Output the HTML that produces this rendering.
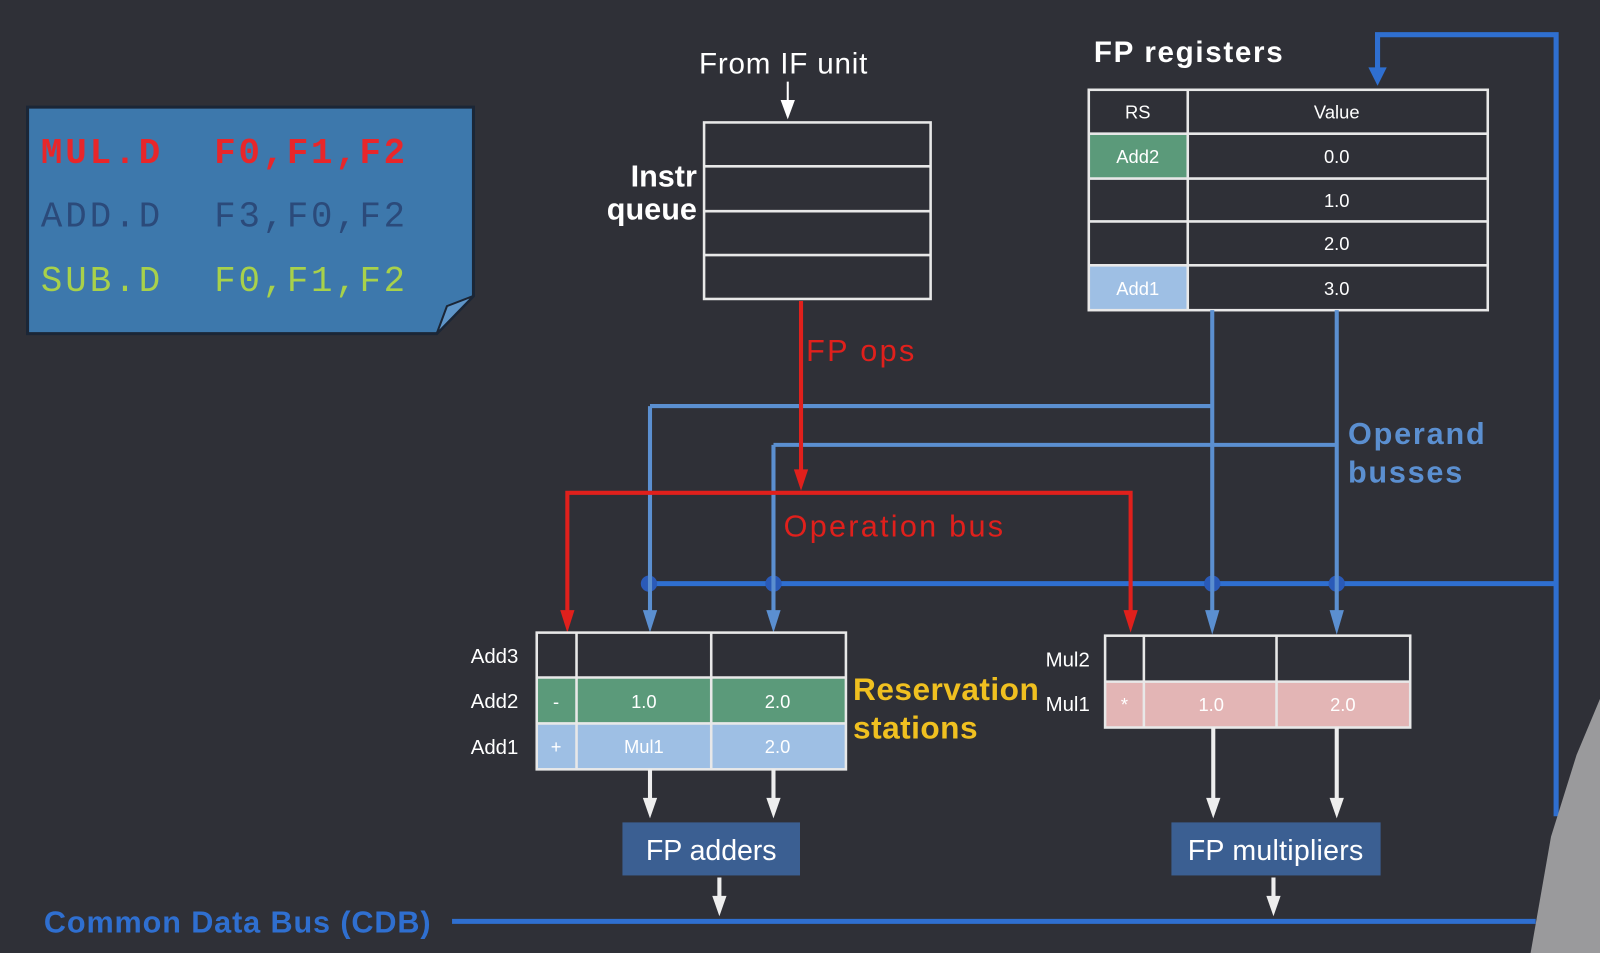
<!DOCTYPE html>
<html><head><meta charset="utf-8"><style>
html,body{margin:0;padding:0;background:#2f3037;overflow:hidden}
svg{display:block}
text{font-family:"Liberation Sans",sans-serif}
.m{font-family:"Liberation Mono",monospace;font-size:35px;letter-spacing:3px}
</style></head><body>
<svg width="1600" height="953" viewBox="0 0 1568 934" preserveAspectRatio="none" xmlns="http://www.w3.org/2000/svg">
<rect width="1568" height="934" fill="#2f3037"/>
<!-- code box -->
<path d="M27,105 H464 V290 L428,327 H27 Z" fill="#3d78ac" stroke="#1b2636" stroke-width="3"/>
<path d="M428,327 L438,300 L464,290 Z" fill="#5e95c8" stroke="#1b2636" stroke-width="2"/>
<text class="m" x="40" y="160" fill="#e8262a" font-weight="bold" textLength="120">MUL.D</text><text class="m" x="210" y="160" fill="#e8262a" font-weight="bold" textLength="190">F0,F1,F2</text>
<text class="m" x="40" y="222" fill="#2b4a7a" textLength="120">ADD.D</text><text class="m" x="210" y="222" fill="#2b4a7a" textLength="190">F3,F0,F2</text>
<text class="m" x="40" y="285" fill="#a8d14a" textLength="120">SUB.D</text><text class="m" x="210" y="285" fill="#a8d14a" textLength="190">F0,F1,F2</text>
<!-- IF -->
<text x="685" y="72" fill="#fff" font-size="29" textLength="165">From IF unit</text>
<path d="M772,80 V100" stroke="#fff" stroke-width="2"/><path d="M765,98 L779,98 L772,117z" fill="#fff"/>
<g fill="none" stroke="#e8e8e8" stroke-width="2.5">
<rect x="690" y="120" width="222" height="173"/>
<path d="M690,163 H912 M690,207 H912 M690,250 H912"/>
</g>
<text x="683" y="183" fill="#fff" font-size="30" font-weight="bold" text-anchor="end">Instr</text>
<text x="683" y="215" fill="#fff" font-size="30" font-weight="bold" text-anchor="end">queue</text>
<!-- FP registers -->
<text x="1072" y="61" fill="#fff" font-size="29" font-weight="bold" textLength="185">FP registers</text>
<rect x="1067" y="131" width="97" height="44" fill="#5b9a7a"/>
<rect x="1067" y="260" width="97" height="44" fill="#9ebfe4"/>
<g fill="none" stroke="#e8e8e8" stroke-width="2.5">
<rect x="1067" y="88" width="391" height="216"/>
<path d="M1164,88 V304 M1067,131 H1458 M1067,175 H1458 M1067,217 H1458 M1067,260 H1458"/>
</g>
<g fill="#fff" font-size="18" text-anchor="middle">
<text x="1115" y="116">RS</text><text x="1310" y="116">Value</text>
<text x="1115" y="160">Add2</text><text x="1310" y="160">0.0</text>
<text x="1310" y="203">1.0</text><text x="1310" y="245">2.0</text>
<text x="1115" y="289">Add1</text><text x="1310" y="289">3.0</text>
</g>
<!-- CDB blue -->
<g stroke="#2f6fd0" stroke-width="5" fill="none">
<path d="M1525,800 V34 H1350 V70"/>
<path d="M636,572 H1525"/>
<path d="M443,903 H1505"/>
</g>
<path d="M1341,66 L1359,66 L1350,84z" fill="#2f6fd0"/>
<g fill="#2a5ab8"><circle cx="636" cy="572" r="8"/><circle cx="758" cy="572" r="8"/><circle cx="1188" cy="572" r="8"/><circle cx="1310" cy="572" r="8"/></g>
<!-- operand busses -->
<g stroke="#5b8fd0" stroke-width="4" fill="none">
<path d="M1188,304 V600 M1310,304 V600 M637,398 H1188 M758,436 H1310 M637,398 V600 M758,436 V600"/>
</g>
<g fill="#5b8fd0">
<path d="M630,598 L644,598 L637,620z"/><path d="M751,598 L765,598 L758,620z"/>
<path d="M1181,598 L1195,598 L1188,622z"/><path d="M1303,598 L1317,598 L1310,622z"/>
</g>
<!-- red -->
<g stroke="#e0201c" stroke-width="4" fill="none">
<path d="M785,295 V462 M556,600 V483 H1108 V600"/>
</g>
<g fill="#e0201c">
<path d="M778,460 L792,460 L785,481z"/><path d="M549,598 L563,598 L556,620z"/><path d="M1101,598 L1115,598 L1108,620z"/>
</g>
<text x="790" y="354" fill="#e0201c" font-size="30" textLength="106">FP ops</text>
<text x="768" y="526" fill="#e0201c" font-size="30" textLength="215">Operation bus</text>
<text x="1321" y="435" fill="#5b8fd0" font-size="30" font-weight="bold" textLength="134">Operand</text>
<text x="1321" y="473" fill="#5b8fd0" font-size="30" font-weight="bold" textLength="112">busses</text>
<!-- Add RS -->
<rect x="526" y="664" width="303" height="45" fill="#5b9a7a"/>
<rect x="526" y="709" width="303" height="45" fill="#9ebfe4"/>
<g fill="none" stroke="#e8e8e8" stroke-width="2.5">
<rect x="526" y="620" width="303" height="134"/>
<path d="M565,620 V754 M697,620 V754 M526,664 H829 M526,709 H829"/>
</g>
<g fill="#fff" font-size="20">
<text x="508" y="650" text-anchor="end">Add3</text><text x="508" y="694" text-anchor="end">Add2</text><text x="508" y="739" text-anchor="end">Add1</text>
<text x="1068" y="653" text-anchor="end">Mul2</text><text x="1068" y="697" text-anchor="end">Mul1</text>
</g>
<g fill="#fff" font-size="18" text-anchor="middle">
<text x="545" y="694">-</text><text x="631" y="694">1.0</text><text x="762" y="694">2.0</text>
<text x="545" y="738">+</text><text x="631" y="738">Mul1</text><text x="762" y="738">2.0</text>
</g>
<text x="836" y="686" fill="#f0c020" font-size="31" font-weight="bold" textLength="182">Reservation</text>
<text x="836" y="724" fill="#f0c020" font-size="31" font-weight="bold" textLength="122">stations</text>
<!-- Mul RS -->
<rect x="1083" y="668" width="299" height="45" fill="#e3b5b5"/>
<g fill="none" stroke="#e8e8e8" stroke-width="2.5">
<rect x="1083" y="623" width="299" height="90"/>
<path d="M1121,623 V713 M1251,623 V713 M1083,668 H1382"/>
</g>
<g fill="#fff" font-size="18" text-anchor="middle">
<text x="1102" y="697">*</text><text x="1187" y="697">1.0</text><text x="1316" y="697">2.0</text>
</g>
<!-- white arrows -->
<g stroke="#eee" stroke-width="4">
<path d="M637,754 V785 M758,754 V785 M1189,713 V785 M1310,713 V785 M705,860 V882 M1248,860 V882"/>
</g>
<g fill="#eee">
<path d="M630,782 L644,782 L637,802z"/><path d="M751,782 L765,782 L758,802z"/>
<path d="M1182,782 L1196,782 L1189,802z"/><path d="M1303,782 L1317,782 L1310,802z"/>
<path d="M698,878 L712,878 L705,898z"/><path d="M1241,878 L1255,878 L1248,898z"/>
</g>
<rect x="610" y="806" width="174" height="52" fill="#3b5f92"/>
<rect x="1148" y="806" width="205" height="52" fill="#3b5f92"/>
<text x="697" y="843" fill="#fff" font-size="28" text-anchor="middle" textLength="128">FP adders</text>
<text x="1250" y="843" fill="#fff" font-size="28" text-anchor="middle" textLength="172">FP multipliers</text>
<text x="43" y="914" fill="#2f6fd0" font-size="30" font-weight="bold" textLength="379">Common Data Bus (CDB)</text>
<!-- person -->
<path d="M1500,934 L1520,820 L1545,740 L1568,685 V934 Z" fill="#9a9a9c"/>
</svg>
</body></html>
